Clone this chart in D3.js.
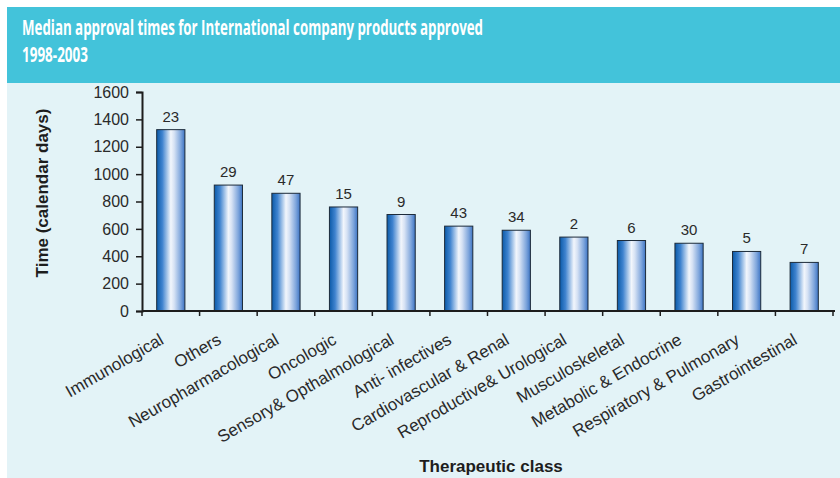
<!DOCTYPE html>
<html>
<head>
<meta charset="utf-8">
<script src="https://cdn.jsdelivr.net/npm/d3@7"></script>
<style>
  body { margin: 0; background: #ffffff; }
  svg { display: block; }
</style>
</head>
<body>
<div id="chart"></div>
<script>
// Donnees
var classes = ["Immunological", "Others", "Neuropharmacological", "Oncologic",
  "Sensory& Opthalmological", "Anti- infectives", "Cardiovascular & Renal",
  "Reproductive& Urological", "Musculoskeletal", "Metabolic & Endocrine",
  "Respiratory & Pulmonary", "Gastrointestinal"];
var medianes = [1325, 920, 860, 760, 705, 620, 590, 540, 515, 495, 435, 355];
var nombres = [23, 29, 47, 15, 9, 43, 34, 2, 6, 30, 5, 7];
var graduations = [0, 200, 400, 600, 800, 1000, 1200, 1400, 1600];

var largeur = 840, hauteur = 478;
var marge = { gauche: 142, droite: 833, haut: 92, bas: 311 };
var police = "'Liberation Sans', Arial, sans-serif";

var svg = d3.select("#chart").append("svg")
  .attr("width", largeur).attr("height", hauteur);

// Degrade des barres
var grad = svg.append("defs").append("linearGradient")
  .attr("id", "barre").attr("x1", "0%").attr("x2", "100%").attr("y1", "0%").attr("y2", "0%");
[[0, "#0b5aa8"], [0.2, "#3f83cf"], [0.5, "#f2f6fc"], [0.62, "#d6e2f4"], [0.85, "#7fa6dc"], [1, "#3d74c4"]]
  .forEach(function (s) { grad.append("stop").attr("offset", s[0]).attr("stop-color", s[1]); });

// Fonds
svg.append("rect").attr("x", 7).attr("y", 83).attr("width", largeur - 7).attr("height", hauteur - 83)
  .attr("fill", "#e3f3f7");
svg.append("rect").attr("x", 7).attr("y", 7).attr("width", largeur - 7).attr("height", 76)
  .attr("fill", "#43c3da");

// Titre
var titre = svg.append("text").attr("fill", "#ffffff")
  .style("font-family", "'Open Sans', sans-serif").style("font-weight", 700).style("font-size", "21px");
titre.append("tspan").attr("x", 22).attr("y", 35)
  .attr("textLength", 461).attr("lengthAdjust", "spacingAndGlyphs")
  .text("Median approval times for International company products approved");
titre.append("tspan").attr("x", 22).attr("y", 62)
  .attr("textLength", 66).attr("lengthAdjust", "spacingAndGlyphs")
  .text("1998-2003");

// Echelles
var x = d3.scaleBand().domain(classes).range([marge.gauche, marge.droite]).paddingInner(0.51).paddingOuter(0.255);
var y = d3.scaleLinear().domain([0, 1600]).range([marge.bas, marge.haut]);

// Barres
svg.selectAll("rect.barre").data(medianes).enter().append("rect")
  .attr("class", "barre")
  .attr("x", function (d, i) { return x(classes[i]); })
  .attr("y", function (d) { return y(d); })
  .attr("width", x.bandwidth())
  .attr("height", function (d) { return y(0) - y(d); })
  .attr("fill", "url(#barre)")
  .attr("stroke", "#1d2b3a")
  .attr("stroke-width", 1);

// Etiquettes de valeur
svg.selectAll("text.nombre").data(nombres).enter().append("text")
  .attr("class", "nombre")
  .attr("x", function (d, i) { return x(classes[i]) + x.bandwidth() / 2; })
  .attr("y", function (d, i) { return y(medianes[i]) - 8; })
  .attr("text-anchor", "middle")
  .attr("fill", "#2a2a2a")
  .style("font-family", police).style("font-size", "15px")
  .text(function (d) { return d; });

// Axe Y
var axeY = svg.append("g").attr("transform", "translate(" + marge.gauche + ",0)")
  .call(d3.axisLeft(y).tickValues(graduations).tickSize(6).tickPadding(7).tickFormat(d3.format("d")));
axeY.select(".domain").attr("stroke", "#1d1d1d").attr("stroke-width", 2);
axeY.selectAll(".tick line").attr("stroke", "#1d1d1d").attr("stroke-width", 1.5);
axeY.selectAll("text").attr("fill", "#2a2a2a")
  .style("font-family", police).style("font-size", "16px");

// Axe X
var axeX = svg.append("g").attr("transform", "translate(0," + marge.bas + ")");
axeX.append("line").attr("x1", marge.gauche).attr("x2", marge.droite + 2)
  .attr("stroke", "#1d1d1d").attr("stroke-width", 2);
var pas = x.step();
axeX.selectAll("line.tick").data(d3.range(classes.length + 1)).enter().append("line")
  .attr("class", "tick")
  .attr("x1", function (i) { return marge.gauche + i * pas; })
  .attr("x2", function (i) { return marge.gauche + i * pas; })
  .attr("y1", 0).attr("y2", 5)
  .attr("stroke", "#1d1d1d").attr("stroke-width", 1.5);

axeX.selectAll("text.classe").data(classes).enter().append("text")
  .attr("class", "classe")
  .attr("text-anchor", "end")
  .attr("transform", function (d) {
    return "translate(" + (x(d) + x.bandwidth() / 2 - 6) + ",32) rotate(-30)";
  })
  .attr("fill", "#2a2a2a")
  .style("font-family", police).style("font-size", "17px")
  .text(function (d) { return d; });

// Titres des axes
svg.append("text")
  .attr("transform", "translate(48,193) rotate(-90)")
  .attr("text-anchor", "middle")
  .attr("fill", "#1d1d1d")
  .style("font-family", police).style("font-weight", "bold").style("font-size", "17px")
  .text("Time (calendar days)");

svg.append("text")
  .attr("x", 491).attr("y", 472)
  .attr("text-anchor", "middle")
  .attr("fill", "#1d1d1d")
  .style("font-family", police).style("font-weight", "bold").style("font-size", "17px")
  .text("Therapeutic class");
</script>
</body>
</html>
